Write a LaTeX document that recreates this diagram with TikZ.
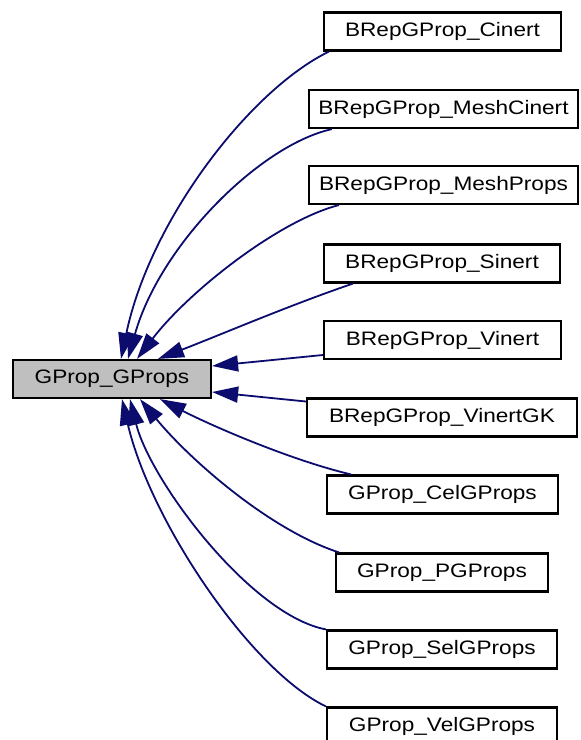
\documentclass[tikz,border=0pt]{standalone}
\usepackage{fontspec}
\setmainfont{Liberation Sans}[FakeStretch=1.16]
\usetikzlibrary{arrows.meta}
\definecolor{edgeblue}{RGB}{12,12,110}
\definecolor{basefill}{RGB}{191,191,191}
\begin{document}
\begin{tikzpicture}[x=1pt,y=-1pt,
  cls/.style={draw=black, line width=2.2pt, fill=white, rectangle,
    minimum height=38pt, inner sep=0pt, font=\fontsize{19.5}{22}\selectfont},
  base/.style={cls, fill=basefill},
  inherit/.style={draw=edgeblue, line width=1.8pt,
    -{Triangle[length=26pt,width=16pt]}}]
\clip (0,0) rectangle (581,740);
\fill[white] (0,0) rectangle (581,740);

% base class
\node[base, minimum width=198pt] (main) at (112,379) {GProp\_GProps};

% derived classes
\node[cls, minimum width=237pt] (c1)  at (442.5,31.5)  {BRepGProp\_Cinert};
\node[cls, minimum width=269pt] (c2)  at (443.5,109)   {BRepGProp\_MeshCinert};
\node[cls, minimum width=269pt] (c3)  at (443.5,185)   {BRepGProp\_MeshProps};
\node[cls, minimum width=236pt] (c4)  at (442,263.5)   {BRepGProp\_Sinert};
\node[cls, minimum width=237pt] (c5)  at (442.5,340)   {BRepGProp\_Vinert};
\node[cls, minimum width=270pt] (c6)  at (442,417.5)   {BRepGProp\_VinertGK};
\node[cls, minimum width=231pt] (c7)  at (442.5,494.5) {GProp\_CelGProps};
\node[cls, minimum width=212pt] (c8)  at (442,572.5)   {GProp\_PGProps};
\node[cls, minimum width=230pt] (c9)  at (442,649.5)   {GProp\_SelGProps};
\node[cls, minimum width=230pt] (c10) at (442,726.5)   {GProp\_VelGProps};

% inheritance edges, arrow at the base class
\draw[inherit] ([xshift=6pt]c1.south west)
  .. controls (250,90) and (150,220) .. ([xshift=9pt]main.north);
\draw[inherit] ([xshift=24pt]c2.south west)
  .. controls (260,145) and (160,245) .. ([xshift=16pt]main.north);
\draw[inherit] ([xshift=31pt]c3.south west)
  .. controls (280,220) and (190,290) .. ([xshift=25pt]main.north);
\draw[inherit] ([xshift=30pt]c4.south west)
  .. controls (290,305) and (220,335) .. ([xshift=46pt]main.north);
\draw[inherit] ([yshift=-15pt]c5.west) -- ([yshift=13pt]main.east);
\draw[inherit] ([yshift=16pt]c6.west) -- ([yshift=-13pt]main.east);
\draw[inherit] ([xshift=25pt]c7.north west)
  .. controls (290,460) and (210,425) .. ([xshift=48pt]main.south);
\draw[inherit] ([xshift=4pt]c8.north west)
  .. controls (270,530) and (190,460) .. ([xshift=28pt]main.south);
\draw[inherit] (c9.north west)
  .. controls (250,615) and (150,480) .. ([xshift=18pt]main.south);
\draw[inherit] (c10.north west)
  .. controls (250,670) and (150,520) .. ([xshift=10pt]main.south);
\end{tikzpicture}
\end{document}
